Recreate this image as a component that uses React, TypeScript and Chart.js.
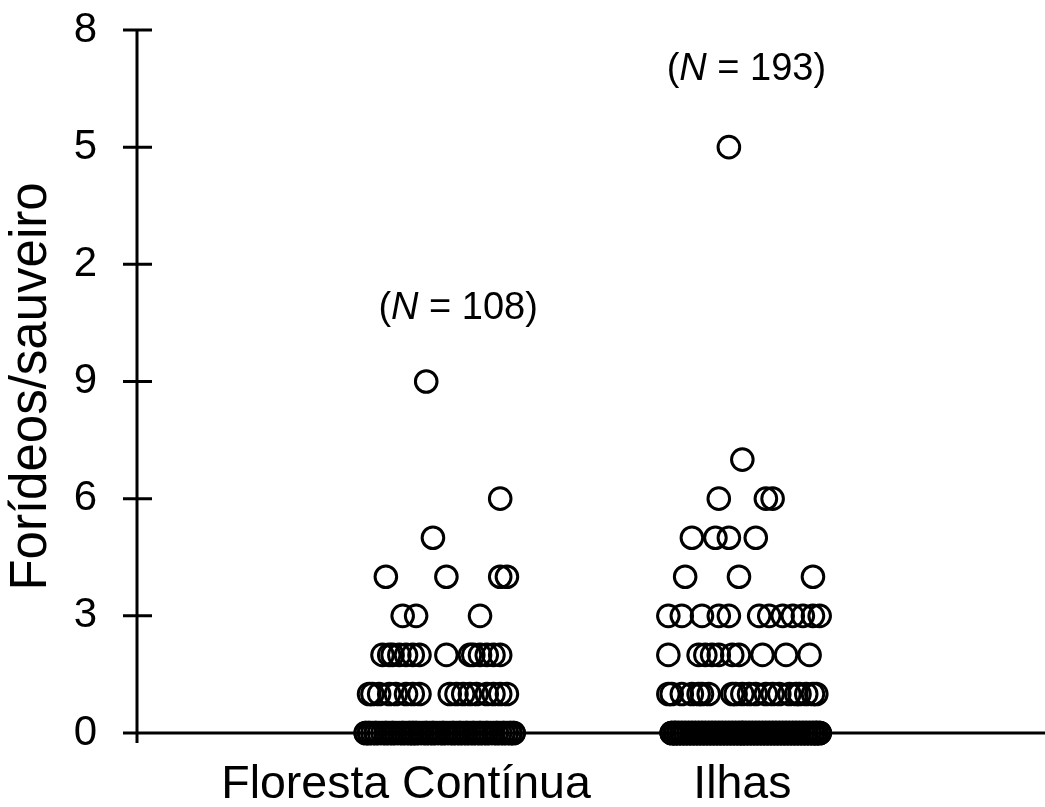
import React, { useEffect, useRef } from "react";
import { Chart, registerables } from "chart.js";

Chart.register(...registerables);

// ---- data ----
const categories = ["Floresta Contínua", "Ilhas"];
const sampleSizes = [108, 193];
const yTickValues = [0, 3, 6, 9, 12, 15, 18];
const yTickLabels = ["0", "3", "6", "9", "2", "5", "8"];
const yTitle = "Forídeos/sauveiro";

// Floresta Contínua: observed values (one per row) and horizontal jitter of each point in that row
const florestaRowValues = [0, 1, 2, 3, 4, 5, 6, 9];
const florestaRowJitter = [
  [
    -12, -11, -11, -10, -9, -9, -8, -7, -6, -6,
    -5, -4, -4, -3, -2, -1, -1, 0, 1, 1,
    2, 3, 3, 4, 5, 6, 6, 7, 8, 8,
    9, 10, 11, 11, 12, 13, 14, 14, 15, 16,
    16, 17, 18, 18, 19, 20, 20, 21, 22, 22,
    23, 24, 24, 25, 26, 27, 27, 28, 29, 29,
    30, 31, 31, 32, 32, -12, 2,
  ],
  [-11, -10, -8, -5, -3, 0, 2, 4, 13, 15, 17, 19, 21, 24, 26, 28, 30],
  [-7, -5, -4, -2, 0, 2, 4, 12, 19, 20, 22, 24, 26, 28],
  [-1, 3, 22],
  [-6, 12, 28, 30],
  [8],
  [28],
  [6],
];

// Ilhas
const ilhasRowValues = [0, 1, 2, 3, 4, 5, 6, 7, 15];
const ilhasRowJitter = [
  [
    -21, -20, -19, -18, -17, -16, -15, -14, -13, -12, -11, -10, -9, -8, -7,
    -6, -5, -4, -3, -2, -1, 0, 1, 2, 3, 4, 5, 6, 7, 8,
    9, 10, 11, 12, 13, 14, 15, 16, 17, 18, 19, 20, 21, 22, 23,
    -21, -20, -19, -18, -17, -16, -15, -14, -13, -12, -11, -10, -9, -8, -7,
    -6, -5, -4, -3, -2, -1, 0, 1, 2, 3, 4, 5, 6, 7, 8,
    9, 10, 11, 12, 13, 14, 15, 16, 17, 18, 19, 20, 21, 22, 23,
    -21, -20, -19, -18, -17, -16, -15, -14, -13, -12, -11, -10, -9, -8, -7,
    -6, -5, -4, -3, -2, -1, 0, 1, 2, 3, 4, 5, 6, 7, 8,
    9, 10, 11, 12, 13, 14, 15, 16, 17, 18, 19, 20, 21, 22, 23,
    -20, 0, 22,
  ],
  [-22, -21, -18, -15, -13, -12, -10, -3, -2, 0, 2, 4, 7, 9, 11, 14, 16, 17, 19, 21, 22],
  [-22, -13, -11, -9, -7, -3, -1, 6, 13, 20],
  [-22, -18, -12, -7, -4, 5, 8, 12, 15, 18, 21, 23],
  [-17, -1, 21],
  [-15, -8, -4, 4],
  [-7, 7, 9],
  [0],
  [-4],
];

// ---- layout constants (not data) ----
const CATEGORY_POS = [100, 200];
const X_MIN = 20;
const X_MAX = 290;
const ANNOTATION_ANCHORS = [
  { x: 115.5, y: 10.86 },
  { x: 201.2, y: 17 },
];
const FONT = "'Liberation Sans', Arial, sans-serif";

function buildPoints(rowValues: number[], rowJitter: number[][], center: number) {
  return rowValues.flatMap((v, i) => rowJitter[i].map((j) => ({ x: center + j, y: v })));
}

const axesPlugin = {
  id: "customAxes",
  beforeDatasetsDraw(chart: any) {
    const { ctx, chartArea, scales } = chart;
    const ys = scales.y;
    const x0 = chartArea.left;
    const yBottom = ys.getPixelForValue(0);
    ctx.save();
    ctx.strokeStyle = "#000";
    ctx.lineWidth = 3;
    ctx.lineCap = "butt";
    ctx.beginPath();
    ctx.moveTo(x0, ys.getPixelForValue(18) - 1.5);
    ctx.lineTo(x0, yBottom + 10);
    ctx.moveTo(x0 - 14, yBottom);
    ctx.lineTo(chartArea.right, yBottom);
    yTickValues.forEach((v) => {
      const py = ys.getPixelForValue(v);
      ctx.moveTo(x0 - 14, py);
      ctx.lineTo(x0 + 15, py);
    });
    ctx.stroke();

    // y-axis title, rotated
    ctx.fillStyle = "#000";
    ctx.font = `51px ${FONT}`;
    ctx.textAlign = "center";
    ctx.textBaseline = "middle";
    ctx.translate(x0 - 105, (chartArea.top + chartArea.bottom) / 2 + 5);
    ctx.rotate(-Math.PI / 2);
    ctx.fillText(yTitle, 0, 0);
    ctx.restore();
  },
  afterDatasetsDraw(chart: any) {
    const { ctx, scales } = chart;
    ctx.save();
    ctx.fillStyle = "#000";
    ctx.textBaseline = "middle";
    ctx.textAlign = "left";
    sampleSizes.forEach((n, i) => {
      const a = ANNOTATION_ANCHORS[i];
      const cx = scales.x.getPixelForValue(a.x);
      const cy = scales.y.getPixelForValue(a.y);
      const normal = `38px ${FONT}`;
      const italic = `italic 38px ${FONT}`;
      const p1 = "(";
      const p2 = "N";
      const p3 = ` = ${n})`;
      ctx.font = normal;
      const w1 = ctx.measureText(p1).width;
      const w3 = ctx.measureText(p3).width;
      ctx.font = italic;
      const w2 = ctx.measureText(p2).width;
      let x = cx - (w1 + w2 + w3) / 2;
      ctx.font = normal;
      ctx.fillText(p1, x, cy);
      x += w1;
      ctx.font = italic;
      ctx.fillText(p2, x, cy);
      x += w2;
      ctx.font = normal;
      ctx.fillText(p3, x, cy);
    });
    ctx.restore();
  },
};

export default function App() {
  const canvasRef = useRef<HTMLCanvasElement | null>(null);

  useEffect(() => {
    if (!canvasRef.current) return;
    Chart.defaults.font.family = FONT;
    const pointStyle = {
      pointStyle: "circle",
      pointRadius: 10.8,
      pointHoverRadius: 10.8,
      pointBorderWidth: 3,
      pointBorderColor: "#000",
      pointBackgroundColor: "rgba(0,0,0,0)",
      showLine: false,
      clip: false as any,
    };
    const chart = new Chart(canvasRef.current, {
      type: "scatter",
      data: {
        datasets: [
          {
            label: categories[0],
            data: buildPoints(florestaRowValues, florestaRowJitter, CATEGORY_POS[0]),
            ...pointStyle,
          },
          {
            label: categories[1],
            data: buildPoints(ilhasRowValues, ilhasRowJitter, CATEGORY_POS[1]),
            ...pointStyle,
          },
        ],
      },
      options: {
        animation: false,
        responsive: false,
        events: [],
        layout: { autoPadding: false, padding: { top: 30, left: 0, right: 0, bottom: 0 } },
        plugins: {
          legend: { display: false },
          tooltip: { enabled: false },
          title: { display: false },
        },
        scales: {
          x: {
            type: "linear",
            min: X_MIN,
            max: X_MAX,
            grid: { display: false, drawTicks: false },
            border: { display: false },
            afterBuildTicks: (s: any) => {
              s.ticks = CATEGORY_POS.map((v) => ({ value: v }));
            },
            afterFit: (s: any) => {
              s.height = 74;
              s.paddingLeft = 0;
              s.paddingRight = 0;
            },
            ticks: {
              autoSkip: false,
              maxRotation: 0,
              padding: 24,
              color: "#000",
              font: { family: FONT, size: 46.5 },
              callback: (_v: any, i: number) => categories[i],
            },
          },
          y: {
            type: "linear",
            min: 0,
            max: 18,
            grid: { display: false, drawTicks: false },
            border: { display: false },
            afterBuildTicks: (s: any) => {
              s.ticks = yTickValues.map((v) => ({ value: v }));
            },
            afterFit: (s: any) => {
              s.width = 137;
              s.paddingTop = 0;
              s.paddingBottom = 0;
            },
            ticks: {
              autoSkip: false,
              padding: 40,
              color: "#000",
              font: { family: FONT, size: 42 },
              callback: (_v: any, i: number) => yTickLabels[i],
            },
            title: { display: false },
          },
        },
      },
      plugins: [axesPlugin],
    } as any);
    return () => chart.destroy();
  }, []);

  return (
    <div style={{ position: "absolute", left: 0, top: 0, width: 1045, height: 807, background: "#fff" }}>
      <canvas ref={canvasRef} width={1045} height={807} style={{ display: "block" }} />
    </div>
  );
}
